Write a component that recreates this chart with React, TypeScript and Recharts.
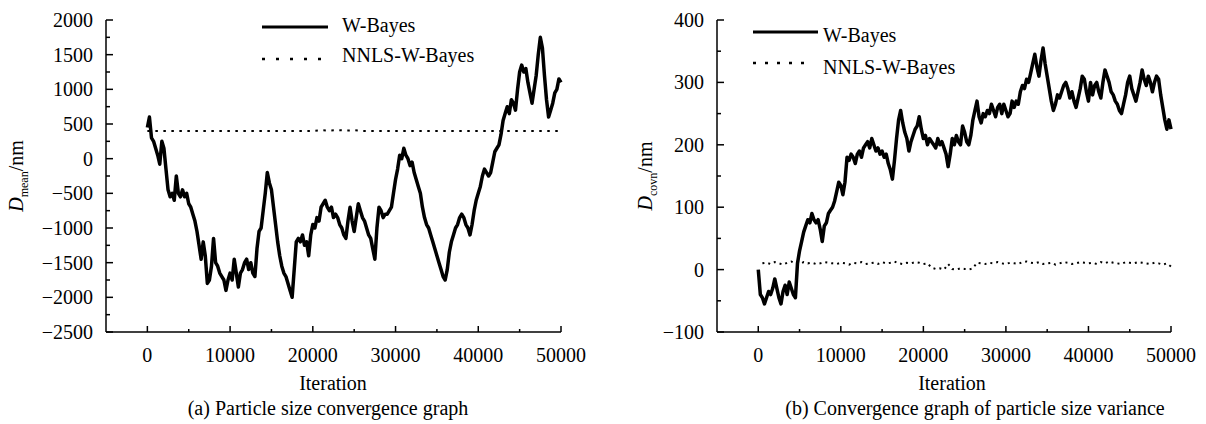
import { LineChart, Line, XAxis, YAxis, Legend } from "recharts";

const FONT = "'Liberation Serif', 'Times New Roman', serif";

// W-Bayes traces, one value every 250 iterations (0 .. 50000)
const W_STEP = 250;

const MEAN_W_BAYES = [
	450, 600, 300, 250, 150, 50, -80, 250, 150, -150, -450, -550, -500, -600, -250, -500, -550, -450, -550, -500,
	-650, -700, -800, -900, -1050, -1250, -1450, -1200, -1400, -1800, -1750, -1550, -1150, -1500, -1550, -1650, -1700, -1750, -1900, -1750,
	-1650, -1750, -1450, -1650, -1850, -1650, -1600, -1500, -1450, -1600, -1500, -1650, -1700, -1300, -1050, -1000, -750, -500, -200, -350,
	-450, -700, -950, -1200, -1400, -1550, -1650, -1700, -1800, -1900, -2000, -1600, -1200, -1150, -1200, -1100, -1250, -1200, -1400, -1100,
	-950, -1000, -850, -900, -700, -650, -600, -700, -750, -700, -850, -800, -850, -950, -1000, -1100, -1150, -900, -700, -900,
	-1050, -850, -650, -750, -850, -900, -1000, -1100, -1150, -1300, -1450, -1000, -700, -750, -850, -800, -800, -750, -700, -500,
	-300, -150, 50, 0, 150, 50, 0, -100, -50, -200, -300, -400, -500, -700, -850, -950, -1000, -1100, -1200, -1300,
	-1400, -1500, -1600, -1700, -1750, -1600, -1350, -1200, -1100, -1000, -950, -850, -800, -850, -950, -1000, -1100, -950, -750, -600,
	-500, -400, -250, -150, -200, -250, -200, -50, 100, 150, 200, 350, 550, 650, 750, 650, 850, 800, 700, 1000,
	1250, 1350, 1250, 1300, 1100, 950, 800, 1000, 1200, 1500, 1750, 1600, 1200, 850, 600, 700, 800, 950, 1000, 1150,
	1100,
];

const COVN_W_BAYES = [
	0, -40, -45, -55, -45, -35, -40, -30, -15, -30, -45, -55, -35, -25, -40, -20, -30, -40, -45, 10,
	30, 45, 60, 70, 80, 75, 90, 80, 75, 80, 65, 45, 70, 75, 90, 95, 100, 110, 125, 140,
	135, 120, 140, 180, 175, 185, 180, 170, 185, 190, 180, 195, 200, 205, 195, 210, 200, 190, 195, 185,
	190, 180, 185, 170, 160, 145, 175, 210, 240, 255, 235, 220, 210, 190, 205, 215, 225, 230, 245, 225,
	210, 215, 200, 210, 205, 200, 195, 210, 200, 205, 195, 185, 165, 185, 210, 200, 215, 205, 200, 230,
	220, 205, 200, 215, 240, 255, 270, 245, 235, 250, 245, 255, 250, 265, 255, 245, 260, 265, 250, 265,
	255, 245, 250, 270, 260, 270, 265, 285, 295, 290, 305, 300, 315, 330, 345, 325, 310, 335, 355, 330,
	310, 290, 270, 255, 265, 280, 275, 285, 295, 300, 290, 275, 285, 270, 260, 275, 290, 310, 305, 285,
	270, 300, 280, 295, 300, 285, 275, 300, 320, 310, 300, 285, 280, 270, 265, 255, 250, 265, 280, 300,
	310, 290, 280, 270, 285, 300, 320, 305, 295, 310, 300, 285, 300, 310, 305, 280, 260, 240, 225, 240,
	225,
];

// NNLS-W-Bayes, mean: one value every 1000 iterations (0 .. 50000)
const MEAN_NNLS = [
	400, 400, 400, 400, 400, 400, 400, 400, 400, 400, 400, 400, 400, 400, 400, 400, 400, 400, 400, 400,
	400, 410, 405, 412, 405, 410, 400, 400, 400, 400, 400, 400, 400, 400, 400, 400, 400, 400, 400, 400,
	400, 400, 400, 400, 400, 400, 400, 400, 400, 400, 400,
];

// NNLS-W-Bayes, variance: one value every 500 iterations (500 .. 50000)
const COVN_NNLS = [
	10, 11, 9, 12, 10, 8, 11, 13, 10, 9, 12, 10, 11, 9, 10, 12, 11, 10, 9, 11,
	10, 8, 11, 10, 12, 9, 10, 11, 9, 12, 10, 11, 13, 10, 9, 11, 10, 12, 11, 9,
	10, 3, 1, 2, 0, 9, 1, 0, 2, 1, 0, 2, 11, 10, 9, 11, 10, 12, 10, 9,
	11, 10, 9, 12, 13, 11, 10, 12, 9, 10, 11, 8, 10, 12, 11, 9, 10, 12, 11, 10,
	11, 9, 12, 10, 13, 11, 10, 9, 12, 11, 10, 12, 11, 10, 9, 11, 10, 8, 10, 5,
];

const X_TICKS = [0, 5000, 10000, 15000, 20000, 25000, 30000, 35000, 40000, 45000, 50000];
const MEAN_Y_TICKS = [
	-2500, -2250, -2000, -1750, -1500, -1250, -1000, -750, -500, -250, 0, 250, 500, 750, 1000, 1250, 1500, 1750, 2000,
];
const COVN_Y_TICKS = [-100, -50, 0, 50, 100, 150, 200, 250, 300, 350, 400];

const SERIES_NAMES = ["W-Bayes", "NNLS-W-Bayes"];

const toPoints = (values: number[], start: number, step: number) =>
	values.map((v, i) => ({ x: start + i * step, y: v }));

const fmt = (v: number) => String(v).replace("-", "\u2212");

const svgText = { fontFamily: FONT, fontSize: 20, fill: "#000" };

function XTick(props: any) {
	const { x, y, payload } = props;
	const major = payload.value % 10000 === 0;
	return (
		<g>
			<line x1={x} x2={x} y1={y} y2={y - (major ? 6 : 3)} stroke="#000" strokeWidth={1.5} />
			{major && (
				<text x={x} y={y + 30} textAnchor="middle" style={svgText}>
					{payload.value}
				</text>
			)}
		</g>
	);
}

function makeYTick(majorEvery: number) {
	return (props: any) => {
		const { x, y, payload } = props;
		const major = payload.value % majorEvery === 0;
		return (
			<g>
				<line x1={x} x2={x + (major ? 7 : 4)} y1={y} y2={y} stroke="#000" strokeWidth={1.5} />
				{major && (
					<text x={x - 13} y={y + 7} textAnchor="end" style={svgText}>
						{fmt(payload.value)}
					</text>
				)}
			</g>
		);
	};
}

interface LegendPos {
	x1: number;
	x2: number;
	solidY: number;
	dotX2: number;
	dotY: number;
	dash: string;
	textX: number;
	base1: number;
	base2: number;
}

function makeLegend(w: number, p: LegendPos) {
	return () => (
		<svg width={w} height={90} style={{ display: "block" }}>
			<line x1={p.x1} x2={p.x2} y1={p.solidY} y2={p.solidY} stroke="#000" strokeWidth={3} />
			<text x={p.textX} y={p.base1} style={svgText}>
				{SERIES_NAMES[0]}
			</text>
			<line x1={p.x1} x2={p.dotX2} y1={p.dotY} y2={p.dotY} stroke="#000" strokeWidth={2.5} strokeDasharray={p.dash} />
			<text x={p.textX} y={p.base2} style={svgText}>
				{SERIES_NAMES[1]}
			</text>
		</svg>
	);
}

interface PanelProps {
	left: number;
	width: number;
	plotLeft: number;
	plotRight: number;
	yDomain: [number, number];
	yTicks: number[];
	majorEvery: number;
	wBayes: { x: number; y: number }[];
	nnls: { x: number; y: number }[];
	nnlsDash: string;
	legend: LegendPos;
}

function Panel(p: PanelProps) {
	return (
		<div style={{ position: "absolute", left: p.left, top: 0 }}>
			<LineChart
				width={p.width}
				height={424}
				margin={{ top: 20, left: p.plotLeft - 60, right: p.width - p.plotRight, bottom: 62 }}
			>
				<XAxis
					type="number"
					dataKey="x"
					domain={[-5000, 50000]}
					ticks={X_TICKS}
					interval={0}
					height={30}
					tickSize={0}
					tickMargin={0}
					tick={XTick}
					axisLine={{ stroke: "#000", strokeWidth: 1.5 }}
					allowDuplicatedCategory={false}
				/>
				<YAxis
					type="number"
					dataKey="y"
					domain={p.yDomain}
					ticks={p.yTicks}
					interval={0}
					width={60}
					tickSize={0}
					tickMargin={0}
					tick={makeYTick(p.majorEvery)}
					axisLine={{ stroke: "#000", strokeWidth: 1.5 }}
				/>
				<Legend
					layout="vertical"
					align="center"
					verticalAlign="middle"
					wrapperStyle={{ left: 0, top: 0, width: p.width, height: 90 }}
					content={makeLegend(p.width, p.legend)}
				/>
				<Line
					data={p.wBayes}
					dataKey="y"
					name={SERIES_NAMES[0]}
					type="linear"
					stroke="#000"
					strokeWidth={3.5}
					strokeLinejoin="round"
					dot={false}
					isAnimationActive={false}
				/>
				<Line
					data={p.nnls}
					dataKey="y"
					name={SERIES_NAMES[1]}
					type="linear"
					stroke="#000"
					strokeWidth={2}
					strokeDasharray={p.nnlsDash}
					dot={false}
					isAnimationActive={false}
				/>
			</LineChart>
		</div>
	);
}

const textStyle = (cx: number, cy: number): React.CSSProperties => ({
	position: "absolute",
	left: cx - 250,
	top: cy - 12,
	width: 500,
	height: 24,
	lineHeight: "24px",
	textAlign: "center",
	fontFamily: FONT,
	fontSize: 20,
	color: "#000",
	whiteSpace: "nowrap",
});

const yLabelStyle = (cx: number, cy: number): React.CSSProperties => ({
	...textStyle(cx, cy),
	left: cx - 100,
	width: 200,
	transform: "rotate(-90deg)",
	transformOrigin: "center center",
});

export default function App() {
	return (
		<div style={{ position: "absolute", left: 0, top: 0, width: 1206, height: 424, background: "#fff" }}>
			<Panel
				left={0}
				width={600}
				plotLeft={106}
				plotRight={561}
				yDomain={[-2500, 2000]}
				yTicks={MEAN_Y_TICKS}
				majorEvery={500}
				wBayes={toPoints(MEAN_W_BAYES, 0, W_STEP)}
				nnls={toPoints(MEAN_NNLS, 0, 1000)}
				nnlsDash="2.5 5.5"
				legend={{ x1: 262, x2: 328, solidY: 27, dotX2: 322, dotY: 59, dash: "3 11", textX: 342, base1: 32, base2: 62 }}
			/>
			<Panel
				left={600}
				width={606}
				plotLeft={117}
				plotRight={571}
				yDomain={[-100, 400]}
				yTicks={COVN_Y_TICKS}
				majorEvery={100}
				wBayes={toPoints(COVN_W_BAYES, 0, W_STEP)}
				nnls={toPoints(COVN_NNLS, 500, 500)}
				nnlsDash="2 4"
				legend={{ x1: 153, x2: 218, solidY: 32, dotX2: 213, dotY: 63, dash: "3 9", textX: 223, base1: 42, base2: 74 }}
			/>
			<div style={yLabelStyle(16, 176)}>
				<i>D</i>
				<sub style={{ fontSize: 12 }}>mean</sub>/nm
			</div>
			<div style={yLabelStyle(645, 176)}>
				<i>D</i>
				<sub style={{ fontSize: 12 }}>covn</sub>/nm
			</div>
			<div style={textStyle(333, 383)}>Iteration</div>
			<div style={textStyle(952, 383)}>Iteration</div>
			<div style={textStyle(328, 408)}>(a) Particle size convergence graph</div>
			<div style={textStyle(975, 408)}>(b) Convergence graph of particle size variance</div>
		</div>
	);
}
